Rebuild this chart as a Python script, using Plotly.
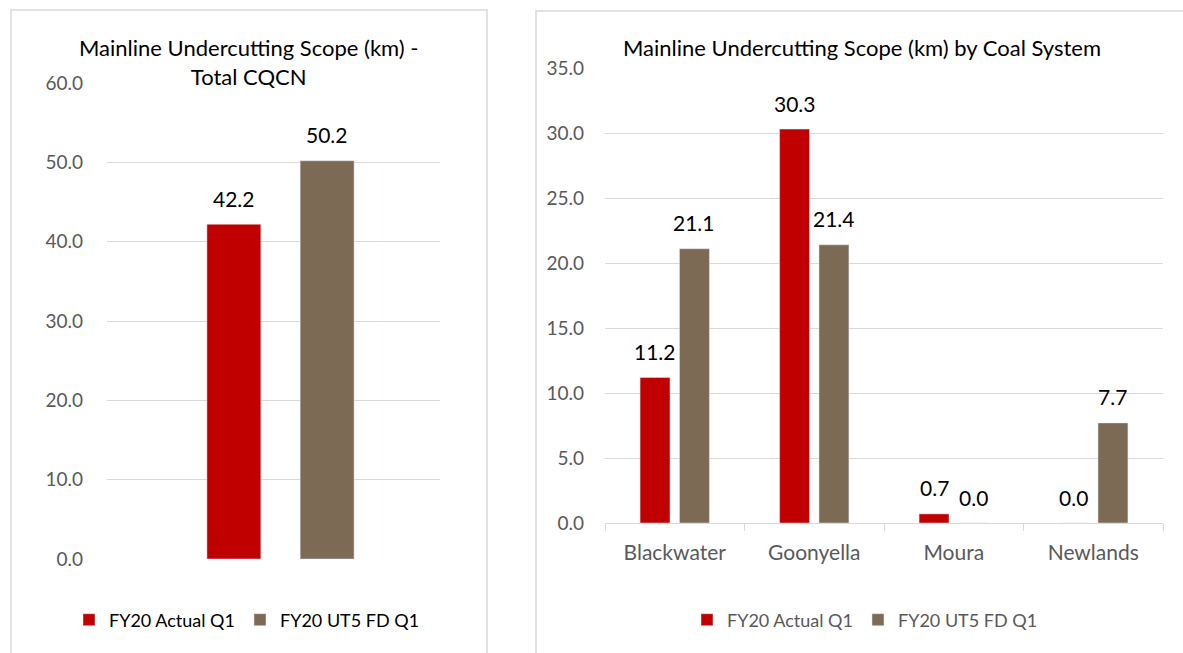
import plotly.graph_objects as go

# Series and categories
series_names = ["FY20 Actual Q1", "FY20 UT5 FD Q1"]
series_colors = ["#C00000", "#7D6A55"]

total_label = ["Total CQCN"]
total_actual = [42.2]
total_forecast = [50.2]

systems = ["Blackwater", "Goonyella", "Moura", "Newlands"]
system_actual = [11.2, 30.3, 0.7, 0.0]
system_forecast = [21.1, 21.4, 0.0, 7.7]

left_ticks = [0, 10, 20, 30, 40, 50, 60]
right_ticks = [0, 5, 10, 15, 20, 25, 30, 35]

W, H = 1183, 653
FONT = "Lato, Carlito, Calibri, sans-serif"
GRID = "#D9D9D9"
TICK_GREY = "#595959"


def px_x(v):
    return v / W


def px_y(v):
    return 1 - v / H


fig = go.Figure()

# Left chart: total network
fig.add_trace(go.Bar(
    x=total_label, y=total_actual, name=series_names[0],
    marker=dict(color=series_colors[0]), width=0.162, offset=-0.2,
    xaxis="x", yaxis="y", legend="legend", hoverinfo="y",
))
fig.add_trace(go.Bar(
    x=total_label, y=total_forecast, name=series_names[1],
    marker=dict(color=series_colors[1]), width=0.162, offset=0.08,
    xaxis="x", yaxis="y", legend="legend", hoverinfo="y",
))

# Right chart: by coal system
fig.add_trace(go.Bar(
    x=systems, y=system_actual, name=series_names[0],
    marker=dict(color=series_colors[0]),
    xaxis="x2", yaxis="y2", legend="legend2", hoverinfo="y",
))
fig.add_trace(go.Bar(
    x=systems, y=system_forecast, name=series_names[1],
    marker=dict(color=series_colors[1]),
    xaxis="x2", yaxis="y2", legend="legend2", hoverinfo="y",
))

annotations = []
label_font = dict(family=FONT, size=21, color="#000000")

# Value labels above the left bars
for ys, dx in [(total_actual, -0.2 + 0.081), (total_forecast, 0.08 + 0.081)]:
    for v in ys:
        annotations.append(dict(
            x=dx, y=v, xref="x", yref="y", text=f"{v:.1f}",
            showarrow=False, yanchor="middle", yshift=26, font=label_font,
        ))

# Value labels above the right bars
for ys, dx in [(system_actual, -0.14), (system_forecast, 0.14)]:
    for i, v in enumerate(ys):
        annotations.append(dict(
            x=i + dx, y=v, xref="x2", yref="y2", text=f"{v:.1f}",
            showarrow=False, yanchor="middle", yshift=26, font=label_font,
        ))

# Chart titles
annotations.append(dict(
    x=px_x(248), y=px_y(62), xref="paper", yref="paper",
    text="Mainline Undercutting Scope (km) -<br>Total CQCN",
    showarrow=False, xanchor="center", yanchor="middle", align="center",
    font=dict(family=FONT, size=22, color="#000000"),
))
annotations.append(dict(
    x=px_x(862), y=px_y(47), xref="paper", yref="paper",
    text="Mainline Undercutting Scope (km) by Coal System",
    showarrow=False, xanchor="center", yanchor="middle",
    font=dict(family=FONT, size=22, color="#000000"),
))

# Panel frames
shapes = [
    dict(type="rect", xref="paper", yref="paper",
         x0=px_x(11), x1=px_x(487), y0=px_y(H + 10), y1=px_y(10),
         line=dict(color=GRID, width=1.5), layer="below"),
    dict(type="rect", xref="paper", yref="paper",
         x0=px_x(536), x1=px_x(W + 10), y0=px_y(H + 10), y1=px_y(11),
         line=dict(color=GRID, width=1.5), layer="below"),
]

tickfont = dict(family=FONT, size=19, color=TICK_GREY)
catfont = dict(family=FONT, size=21, color=TICK_GREY)

fig.update_layout(
    width=W, height=H,
    margin=dict(l=0, r=0, t=0, b=0, autoexpand=False),
    paper_bgcolor="white", plot_bgcolor="white",
    barmode="group", bargap=0.435, bargroupgap=0.24,
    showlegend=True,
    font=dict(family=FONT),
    xaxis=dict(
        domain=[px_x(107), px_x(440)], range=[-0.5, 0.5], automargin=False,
        showticklabels=False, showgrid=False, zeroline=False,
        showline=False, ticks="", fixedrange=True,
    ),
    yaxis=dict(
        domain=[px_y(559), px_y(83)], range=[0, 60], automargin=False,
        tickvals=left_ticks, tickformat=".1f", tickfont=tickfont,
        showgrid=True, gridcolor=GRID, gridwidth=1.2,
        zeroline=False, showline=False, ticks="",
        ticklabelstandoff=23, fixedrange=True,
    ),
    xaxis2=dict(
        domain=[px_x(605), px_x(1163)], anchor="y2", automargin=False,
        tickfont=catfont, showgrid=False, zeroline=False,
        showline=True, linecolor=GRID, linewidth=1.3,
        ticks="outside", tickson="boundaries", ticklen=7,
        tickcolor=GRID, tickwidth=1.3, ticklabelstandoff=11,
        fixedrange=True,
    ),
    yaxis2=dict(
        domain=[px_y(523), px_y(68)], range=[0, 35], anchor="x2",
        automargin=False,
        tickvals=right_ticks, tickformat=".1f", tickfont=tickfont,
        showgrid=True, gridcolor=GRID, gridwidth=1.2,
        zeroline=False, showline=False, ticks="",
        ticklabelstandoff=20, fixedrange=True,
    ),
    legend=dict(
        orientation="h", x=px_x(247), y=px_y(620),
        xanchor="center", yanchor="middle",
        font=dict(family=FONT, size=18, color="#000000"),
        bgcolor="rgba(0,0,0,0)",
    ),
    legend2=dict(
        orientation="h", x=px_x(865), y=px_y(620),
        xanchor="center", yanchor="middle",
        font=dict(family=FONT, size=18, color=TICK_GREY),
        bgcolor="rgba(0,0,0,0)",
    ),
    annotations=annotations,
    shapes=shapes,
)

fig.write_html("out.html")
